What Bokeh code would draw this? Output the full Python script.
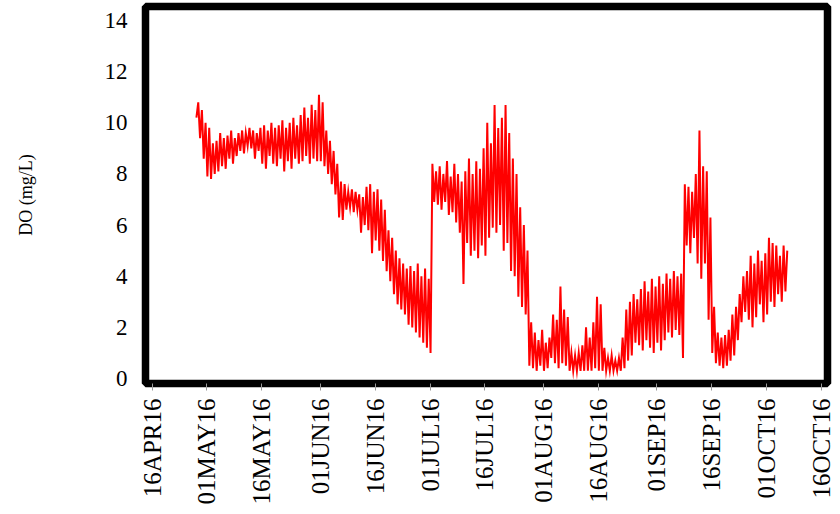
import numpy as np
import pandas as pd
from math import pi
from bokeh.plotting import figure
from bokeh.models import ColumnDataSource, FixedTicker, Range1d
from bokeh.embed import file_html
from bokeh.resources import INLINE

# Daily dissolved-oxygen extremes (mg/L), one value per day from the first date
start_date = "2016-04-28"

do_low = [
    10.2, 9.4, 8.6,                                                  # Apr 28-30
    7.9, 7.8, 8.0, 8.1, 8.3, 8.2, 8.6, 8.4, 8.7, 8.9, 8.8, 9.1, 9.0,  # May 1-13
    8.6, 8.9, 8.4, 8.2, 8.7, 8.4, 8.3, 8.6, 8.1, 8.5, 8.2, 8.6, 8.4,  # May 14-26
    8.5, 8.7, 8.4, 8.6, 8.5,                                         # May 27-31
    8.5, 8.3, 8.0, 7.6, 7.2, 6.3, 6.2, 6.6, 6.7, 6.5, 6.6, 5.7, 6.0,  # Jun 1-13
    5.8, 4.9, 5.4, 5.0, 4.6, 4.2, 3.8, 3.3, 2.9, 2.7, 2.5, 2.1, 2.0,  # Jun 14-26
    1.8, 1.6, 1.4, 1.2,                                              # Jun 27-30
    1.0, 6.9, 6.8, 6.6, 6.9, 6.4, 6.5, 6.1, 5.7, 3.7, 5.3, 4.8, 5.0,  # Jul 1-13
    4.7, 5.2, 4.8, 5.5, 5.9, 5.7, 6.0, 5.0, 5.3, 4.2, 4.0, 3.2, 2.8,  # Jul 14-26
    2.5, 0.5, 0.4, 0.3, 0.5, 0.3,                                    # Jul 27-Aug 1
    0.4, 0.8, 0.6, 0.4, 0.6, 0.5, 0.3, 0.3, 0.3, 0.3, 0.3, 0.3, 0.3,  # Aug 2-14
    0.4, 0.3, 0.3, 0.3, 0.3, 0.3, 0.3, 0.3, 0.4, 0.7, 0.9, 1.4, 1.3,  # Aug 15-27
    1.1, 1.5, 1.2, 1.0,                                              # Aug 28-31
    1.4, 1.1, 1.5, 1.8, 1.6, 1.9, 1.7, 0.8, 5.2, 4.9, 5.5, 4.5, 3.9,  # Sep 1-13
    4.5, 2.3, 1.0, 0.6, 0.5, 0.4, 0.5, 0.7, 0.9, 1.5, 2.2, 2.6, 2.3,  # Sep 14-26
    2.0, 2.4, 2.9, 2.2,                                              # Sep 27-30
    2.5, 3.0, 2.8, 3.3, 3.0, 3.4,                                    # Oct 1-6
]

do_high = [
    10.8, 10.5, 10.0,
    9.8, 9.2, 9.3, 9.6, 9.4, 9.5, 9.7, 9.4, 9.6, 9.7, 9.6, 9.8, 9.7,
    9.6, 9.8, 9.9, 9.7, 10.0, 9.8, 9.9, 10.1, 9.8, 10.0, 10.2, 9.9, 10.3,
    10.6, 10.2, 10.7, 10.5, 11.1,
    10.8, 9.7, 9.3, 8.9, 8.4, 7.7, 7.6, 7.3, 7.4, 7.3, 7.2, 7.1, 7.5,
    7.6, 7.3, 7.4, 7.0, 6.6, 5.8, 5.5, 5.0, 4.7, 4.5, 4.3, 4.4, 4.2,
    4.5, 4.0, 4.3, 3.9,
    8.4, 8.1, 8.3, 8.0, 8.5, 7.9, 8.4, 8.0, 7.7, 8.1, 8.6, 8.0, 8.5,
    8.2, 9.0, 10.0, 9.2, 10.7, 9.8, 10.2, 10.7, 9.6, 8.6, 8.0, 6.7, 6.0,
    5.0, 2.2, 1.8, 1.5, 1.9, 1.4,
    1.6, 2.5, 2.3, 3.6, 2.7, 2.4, 1.0, 0.9, 1.0, 1.3, 2.0, 1.6, 2.2,
    3.2, 2.9, 1.2, 0.8, 0.9, 0.7, 0.8, 1.6, 2.7, 3.0, 3.3, 3.1, 3.5,
    3.8, 3.4, 3.9, 3.6,
    4.0, 3.7, 4.1, 3.9, 4.2, 4.0, 4.1, 7.6, 7.5, 7.3, 8.0, 9.7, 8.3,
    8.1, 6.3, 2.8, 1.8, 1.6, 1.7, 1.9, 2.5, 2.8, 3.3, 4.0, 4.2, 4.8,
    4.5, 5.0, 4.6, 4.9,
    5.5, 5.3, 5.2, 4.8, 5.2, 5.0,
]

tick_dates = ["2016-04-16", "2016-05-01", "2016-05-16", "2016-06-01",
              "2016-06-16", "2016-07-01", "2016-07-16", "2016-08-01",
              "2016-08-16", "2016-09-01", "2016-09-16", "2016-10-01",
              "2016-10-16"]
tick_labels = ["16APR16", "01MAY16", "16MAY16", "01JUN16", "16JUN16",
               "01JUL16", "16JUL16", "01AUG16", "16AUG16", "01SEP16",
               "16SEP16", "01OCT16", "16OCT16"]
y_ticks = [0, 2, 4, 6, 8, 10, 12, 14]

# Each day swings from its night-time low to its afternoon high
days = pd.date_range(start_date, periods=len(do_low), freq="D")
times, values = [], []
for d, lo, hi in zip(days, do_low, do_high):
    times += [d + pd.Timedelta(hours=3), d + pd.Timedelta(hours=15)]
    values += [lo, hi]
src = ColumnDataSource(dict(t=times, do=values))

x_start = pd.Timestamp(tick_dates[0]) - pd.Timedelta(hours=43)
x_end = pd.Timestamp(tick_dates[-1]) + pd.Timedelta(hours=39)

p = figure(width=840, height=514, x_axis_type="datetime",
           x_range=Range1d(x_start, x_end), y_range=Range1d(-0.196, 14.548),
           output_backend="svg", toolbar_location=None,
           min_border_left=145, min_border_right=13,
           min_border_top=6, min_border_bottom=131)

p.line("t", "do", source=src, line_color="#ff0000", line_width=2.0,
       line_join="miter")

p.grid.visible = False
p.background_fill_color = "white"
p.border_fill_color = "white"
p.outline_line_color = "black"
p.outline_line_width = 7.5
p.outline_line_alpha = 1.0

tick_ms = [pd.Timestamp(d).value / 1e6 for d in tick_dates]
xa = p.xaxis[0]
xa.ticker = FixedTicker(ticks=tick_ms)
xa.major_label_overrides = {ms: lab for ms, lab in zip(tick_ms, tick_labels)}
xa.major_label_orientation = pi / 2
xa.major_label_text_font = "Liberation Serif"
xa.major_label_text_font_size = "25px"
xa.major_label_text_color = "black"
xa.major_label_standoff = 8
xa.axis_line_color = None
xa.major_tick_in = 0
xa.major_tick_out = 7
xa.major_tick_line_color = "#999999"
xa.minor_tick_line_color = None

ya = p.yaxis[0]
ya.ticker = FixedTicker(ticks=y_ticks)
ya.major_label_text_font = "Liberation Serif"
ya.major_label_text_font_size = "23px"
ya.major_label_text_color = "black"
ya.major_label_standoff = 12
ya.axis_line_color = None
ya.major_tick_line_color = None
ya.minor_tick_line_color = None
ya.axis_label = "DO (mg/L)"
ya.axis_label_text_font = "Liberation Serif"
ya.axis_label_text_font_size = "18px"
ya.axis_label_text_font_style = "normal"
ya.axis_label_text_color = "black"
ya.axis_label_standoff = 66

open("out.html", "w").write(file_html(p, INLINE))
